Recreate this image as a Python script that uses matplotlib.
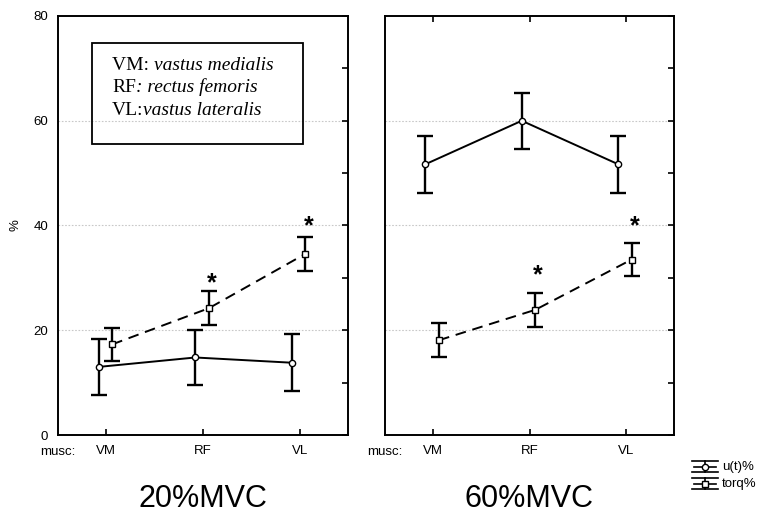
import matplotlib
matplotlib.use('Agg')
import matplotlib.pyplot as plt
from matplotlib.patches import Rectangle

plt.rcParams['font.family'] = ['Liberation Sans', 'DejaVu Sans']

muscles = ['VM', 'RF', 'VL']
panel_titles = ['20%MVC', '60%MVC']
yticks = [0, 20, 40, 60, 80]

ut_20 = [13.0, 14.8, 13.8]
ut_20_err = [5.3, 5.3, 5.4]
torq_20 = [17.3, 24.2, 34.6]
torq_20_err = [3.2, 3.2, 3.2]

ut_60 = [51.7, 60.0, 51.7]
ut_60_err = [5.4, 5.3, 5.4]
torq_60 = [18.1, 23.9, 33.5]
torq_60_err = [3.2, 3.2, 3.2]

star_20 = [None, 29.0, 39.8]
star_60 = [None, 30.5, 39.8]

fig = plt.figure(figsize=(7.64, 5.14), dpi=100)
W, H = 764, 514

def axrect(x0, x1, y0, y1):
    return [x0 / W, 1 - y1 / H, (x1 - x0) / W, (y1 - y0) / H]

ax1 = fig.add_axes(axrect(58, 348, 16, 435))
ax2 = fig.add_axes(axrect(385, 674, 16, 435))

data = [(ax1, ut_20, ut_20_err, torq_20, torq_20_err, star_20),
        (ax2, ut_60, ut_60_err, torq_60, torq_60_err, star_60)]

xpos = list(range(len(muscles)))
for i, (ax, ut, ute, tq, tqe, st) in enumerate(data):
    ax.set_xlim(-0.5, 2.5)
    ax.set_ylim(0, 80)
    for yv in [20, 40, 60]:
        ax.axhline(yv, color='#c8c8c8', lw=0.8, ls=(0, (1.5, 1.5)), zorder=0)
    ax.errorbar([x - 0.08 for x in xpos], ut, yerr=ute, fmt='-o', color='black',
                mfc='white', mec='black', ms=4.5, lw=1.4, elinewidth=1.7,
                capsize=5.5, capthick=1.7, zorder=3)
    ax.errorbar([x + 0.06 for x in xpos], tq, yerr=tqe, fmt='s', color='black',
                mfc='white', mec='black', ms=4.5, elinewidth=1.7,
                capsize=5.5, capthick=1.7, zorder=3)
    ax.plot([x + 0.06 for x in xpos], tq, color='black', lw=1.4,
            dashes=(5.5, 3.5), zorder=2)
    for x, s in zip(xpos, st):
        if s is not None:
            ax.text(x + 0.09, s, '*', ha='center', va='center',
                    fontsize=18, fontweight='bold')
    ax.set_xticks(xpos)
    ax.set_xticklabels(muscles, fontsize=9.5)
    ax.set_yticks(yticks)
    ax.set_yticks([10, 30, 50, 70], minor=True)
    ax.tick_params(axis='x', direction='in', length=4, width=1.2, pad=7,
                   top=(i == 1), bottom=True)
    ax.tick_params(axis='y', which='both', direction='in', length=4, width=1.2,
                   left=False, right=True, labelleft=(i == 0), pad=7, labelsize=9.5)
    for sp in ax.spines.values():
        sp.set_linewidth(1.4)
    ax.text(0.0, -0.026, 'musc:', transform=ax.transAxes, ha='center', va='top',
            fontsize=9.5)
    fig.text((203 if i == 0 else 529) / W, 1 - 499 / H, panel_titles[i],
             ha='center', va='center', fontsize=22)

ax1.set_ylabel('%', fontsize=9.5, labelpad=9)

# info box
box = Rectangle((0.117, 0.6945), 0.728, 0.241, transform=ax1.transAxes,
                fill=False, lw=1.3, ec='black', zorder=5)
ax1.add_patch(box)
lines_box = [('VM: ', 'vastus medialis'), ('RF', ': rectus femoris'),
             ('VL:', 'vastus lateralis')]
ys = [0.883, 0.829, 0.774]
for (r, it), yy in zip(lines_box, ys):
    t1 = ax1.text(0.186, yy, r, transform=ax1.transAxes, fontsize=14,
                  family='Liberation Serif', va='center', ha='left', zorder=6)
    ax1.annotate(it, xy=(1, 0), xycoords=t1, va='bottom', ha='left',
                 fontsize=14, family='Liberation Serif', style='italic', zorder=6)

# legend glyphs
ov = fig.add_axes([0, 0, 1, 1], facecolor='none')
ov.set_xlim(0, W)
ov.set_ylim(H, 0)
ov.axis('off')
for yc, mk, lab in [(467, 'o', 'u(t)%'), (484, 's', 'torq%')]:
    ov.plot([692, 718], [yc - 6, yc - 6], color='black', lw=1.2)
    ov.plot([692, 718], [yc + 5, yc + 5], color='black', lw=1.2)
    ov.plot([694, 716], [yc, yc], color='black', lw=1.2)
    ov.plot([705, 705], [yc - 6, yc + 5], color='black', lw=1.2)
    ov.plot([705], [yc], marker=mk, ms=4.5, mfc='white', mec='black', mew=1)
    ov.text(722, yc, lab, fontsize=9.5, va='center', ha='left')

fig.savefig('out.png', dpi=100)
